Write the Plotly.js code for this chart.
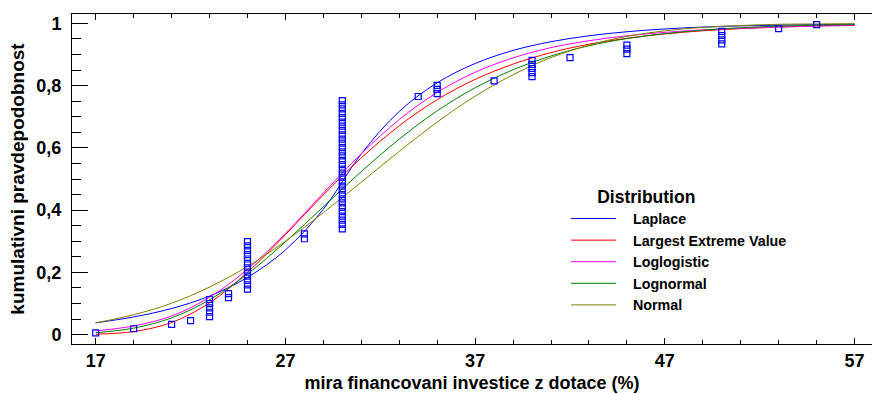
<!DOCTYPE html>
<html>
<head>
<meta charset="utf-8">
<script src="https://cdn.plot.ly/plotly-3.0.1.min.js"></script>
<style>
html, body { margin: 0; padding: 0; overflow: hidden; background: #fff; }
#chart { width: 872px; height: 394px; }
</style>
</head>
<body>
<div id="chart"></div>
<script>
// x grid where the fitted CDF curves were read
const curveX = [17, 19, 21, 23, 25, 27, 29, 31, 33, 35, 37, 39, 41, 43, 45, 47, 49, 51, 53, 55, 57];
const laplaceY = [0.038, 0.057, 0.084, 0.124, 0.184, 0.272, 0.403, 0.581, 0.717, 0.809, 0.871, 0.913, 0.941, 0.960, 0.973, 0.982, 0.988, 0.992, 0.994, 0.996, 0.997];
const levY = [0.0015, 0.010, 0.039, 0.102, 0.200, 0.321, 0.449, 0.568, 0.671, 0.755, 0.820, 0.869, 0.906, 0.933, 0.952, 0.966, 0.976, 0.983, 0.988, 0.992, 0.994];
const loglogisticY = [0.012, 0.028, 0.060, 0.120, 0.210, 0.325, 0.455, 0.581, 0.691, 0.778, 0.843, 0.889, 0.922, 0.944, 0.960, 0.971, 0.979, 0.984, 0.988, 0.991, 0.993];
const lognormalY = [0.006, 0.021, 0.054, 0.112, 0.195, 0.298, 0.411, 0.524, 0.628, 0.719, 0.793, 0.851, 0.895, 0.928, 0.951, 0.967, 0.978, 0.986, 0.991, 0.994, 0.996];
const normalY = [0.038, 0.064, 0.101, 0.153, 0.219, 0.300, 0.392, 0.490, 0.589, 0.683, 0.766, 0.835, 0.890, 0.930, 0.958, 0.976, 0.987, 0.993, 0.997, 0.998, 0.999];

// observed cumulative points
const obsX = [17, 19, 21, 22,
  23, 23, 23, 23, 23,
  24, 24,
  25, 25, 25, 25, 25, 25, 25, 25, 25, 25, 25, 25,
  28, 28,
  30, 30, 30, 30, 30, 30, 30, 30, 30, 30, 30, 30, 30, 30, 30, 30, 30, 30, 30, 30, 30, 30, 30, 30, 30, 30, 30, 30, 30, 30, 30,
  34, 35, 35, 35, 38,
  40, 40, 40, 40, 40,
  42, 45, 45, 45,
  50, 50, 50, 50, 53, 55];
const obsY = [0.006, 0.019, 0.033, 0.045,
  0.058, 0.072, 0.086, 0.100, 0.113,
  0.119, 0.132,
  0.146, 0.160, 0.174, 0.188, 0.201, 0.215, 0.229, 0.243, 0.257, 0.271, 0.285, 0.299,
  0.308, 0.324,
  0.340, 0.354, 0.368, 0.381, 0.395, 0.409, 0.423, 0.436, 0.450, 0.464, 0.477, 0.491, 0.505, 0.519, 0.532, 0.546, 0.560, 0.574, 0.587, 0.601, 0.615, 0.628, 0.642, 0.656, 0.670, 0.683, 0.697, 0.711, 0.725, 0.738, 0.752,
  0.765, 0.774, 0.788, 0.801, 0.815,
  0.829, 0.842, 0.855, 0.868, 0.881,
  0.890, 0.903, 0.917, 0.930,
  0.934, 0.947, 0.961, 0.974, 0.983, 0.996];

const seriesNames = ["Laplace", "Largest Extreme Value", "Loglogistic", "Lognormal", "Normal"];
const seriesY = [laplaceY, levY, loglogisticY, lognormalY, normalY];
const seriesColors = ["#0000ff", "#ff0000", "#ff00ff", "#008000", "#808000"];

const FONT = "Liberation Sans, Arial, sans-serif";
const PAD = "\u00a0\u00a0\u00a0";

const traces = seriesNames.map((n, i) => ({
  type: "scatter", mode: "lines", name: PAD + n,
  x: curveX, y: seriesY[i],
  line: { color: seriesColors[i], width: 1, shape: "spline" },
  hoverinfo: "skip"
}));
traces.push({
  type: "scatter", mode: "markers", name: "data", showlegend: false,
  x: obsX, y: obsY,
  marker: { symbol: "square-open", size: 6, color: "#0000ff", line: { width: 1.2, color: "#0000ff" } }
});

const layout = {
  width: 872, height: 394,
  margin: { l: 72, r: 0, t: 14, b: 50 },
  paper_bgcolor: "#fff", plot_bgcolor: "#fff",
  separators: ", ",
  font: { family: FONT, color: "#000" },
  showlegend: true,
  legend: {
    x: 0.6175, xanchor: "left", y: 0.497, yanchor: "top",
    bgcolor: "rgba(0,0,0,0)", borderwidth: 0,
    font: { family: FONT, size: 14.3, weight: "bold", color: "#000" },
    title: { text: "\u00a0\u00a0\u00a0\u00a0\u00a0\u00a0Distribution", font: { family: FONT, size: 17.5, weight: "bold", color: "#000" } },
    itemwidth: 45, traceorder: "normal"
  },
  xaxis: {
    range: [15.75, 57.92], tick0: 17, dtick: 10,
    ticks: "inside", ticklen: 6, tickwidth: 1, tickcolor: "#000",
    showline: true, linecolor: "#000", linewidth: 1, mirror: "allticks",
    showgrid: false, zeroline: false,
    minor: { ticks: "inside", ticklen: 4, tick0: 17, dtick: 2, tickcolor: "#000", showgrid: false },
    tickfont: { family: FONT, size: 18, weight: "bold" },
    title: { text: "mira financovani investice z dotace (%)", font: { family: FONT, size: 18, weight: "bold" }, standoff: 6 }
  },
  yaxis: {
    range: [-0.03, 1.03], tick0: 0, dtick: 0.2,
    ticks: "inside", ticklen: 16, tickwidth: 1, tickcolor: "#000",
    showline: true, linecolor: "#000", linewidth: 1, mirror: false,
    showgrid: false, zeroline: false,
    minor: { ticks: "inside", ticklen: 9, tick0: 0, dtick: 0.05, tickcolor: "#000", showgrid: false },
    tickfont: { family: FONT, size: 18, weight: "bold" },
    ticklabelstandoff: 6,
    title: { text: "kumulativni pravdepodobnost", font: { family: FONT, size: 19, weight: "bold" }, standoff: 6 }
  }
};

Plotly.newPlot("chart", traces, layout, { staticPlot: true, displayModeBar: false });
</script>
</body>
</html>
